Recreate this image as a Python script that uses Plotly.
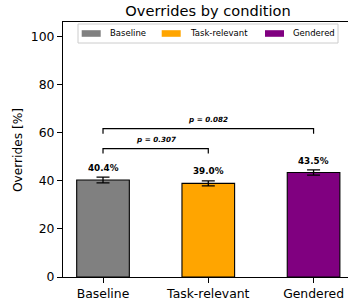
import plotly.graph_objects as go

categories = ["Baseline", "Task-relevant", "Gendered"]
override_pct = [40.4, 39.0, 43.5]
override_err = [1.2, 1.05, 1.1]
bar_colors = ["#808080", "#FFA500", "#800080"]
comparisons = [(0, 1), (0, 2)]
p_values = [0.307, 0.082]
y_ticks = [0, 20, 40, 60, 80, 100]

W, H = 348, 305
L, R, T, B = 63, 0, 22, 28
PW, PH = W - L - R, H - T - B
FONT = "DejaVu Sans"


def px(x):
    return (x - L) / PW


def py(y):
    return (H - B - y) / PH


xs = list(range(len(categories)))
fig = go.Figure()
fig.add_trace(go.Bar(
    x=xs, y=override_pct, width=0.5,
    marker=dict(color=bar_colors, line=dict(color="black", width=1.1)),
    error_y=dict(type="data", array=override_err, color="black", thickness=1.3, width=6.5),
    showlegend=False,
))

annotations = []
shapes = []
# value labels
for i, (v, e) in enumerate(zip(override_pct, override_err)):
    annotations.append(dict(x=i, y=v + e + 3.9, xref="x", yref="y", text=f"<b>{v:.1f}%</b>",
                            showarrow=False, yanchor="middle",
                            font=dict(family=FONT, size=8.8, color="black")))

# significance brackets
levels = [53.5, 61.8]
for (a, b), p, h in zip(comparisons, p_values, levels):
    shapes.append(dict(type="path", xref="x", yref="y",
                       path=f"M {a},{h-2.1} L {a},{h} L {b},{h} L {b},{h-2.1}",
                       line=dict(color="black", width=1.2)))
    annotations.append(dict(x=(a + b) / 2, y=h + 3.8, xref="x", yref="y",
                            text=f"<b><i>p = {p:.3f}</i></b>", showarrow=False, yanchor="middle",
                            font=dict(family=FONT, size=7.2, color="black")))

# legend (manual, matplotlib-style)
shapes.append(dict(type="rect", xref="paper", yref="paper", x0=px(78), x1=px(338), y0=py(43), y1=py(24),
                   line=dict(color="#cccccc", width=1), fillcolor="rgba(255,255,255,0.8)", layer="above"))
sw_x = [81.7, 161.7, 265]
for i, name in enumerate(categories):
    shapes.append(dict(type="rect", xref="paper", yref="paper", x0=px(sw_x[i]), x1=px(sw_x[i] + 19),
                       y0=py(36.8), y1=py(30.2), line=dict(width=0), fillcolor=bar_colors[i], layer="above"))
    annotations.append(dict(x=px(sw_x[i] + 26), y=py(33.5), xref="paper", yref="paper", text=name,
                            showarrow=False, xanchor="left", yanchor="middle",
                            font=dict(family=FONT, size=8.5, color="black")))

# y axis title
annotations.append(dict(x=px(18), y=py(150), xref="paper", yref="paper", text="Overrides [%]",
                        showarrow=False, textangle=-90, xanchor="center", yanchor="middle",
                        font=dict(family=FONT, size=12.2, color="black")))

fig.update_layout(
    width=W, height=H,
    margin=dict(l=L, r=R, t=T, b=B, pad=0),
    plot_bgcolor="white", paper_bgcolor="white",
    title=dict(text="Overrides by condition", x=208 / W, y=1 - 10.5 / H, xref="container", yref="container",
               xanchor="center", yanchor="middle", font=dict(family=FONT, size=14.6, color="black")),
    xaxis=dict(range=[-0.38, 2.327], tickvals=xs, ticktext=categories, showgrid=False, zeroline=False,
               showline=True, linecolor="black", linewidth=1.1, mirror=True,
               ticks="outside", ticklen=5, tickwidth=1, tickcolor="black",
               tickfont=dict(family=FONT, size=12.4, color="black")),
    yaxis=dict(range=[0, 106.2], tickvals=y_ticks, showgrid=False, zeroline=False,
               showline=True, linecolor="black", linewidth=1.1,
               ticks="outside", ticklen=5, tickwidth=1, tickcolor="black",
               tickfont=dict(family=FONT, size=12.4, color="black")),
    shapes=shapes, annotations=annotations,
)

fig.write_html("out.html", config={"displayModeBar": False},
               post_script="document.body.style.margin='0';document.body.style.overflow='hidden';")
